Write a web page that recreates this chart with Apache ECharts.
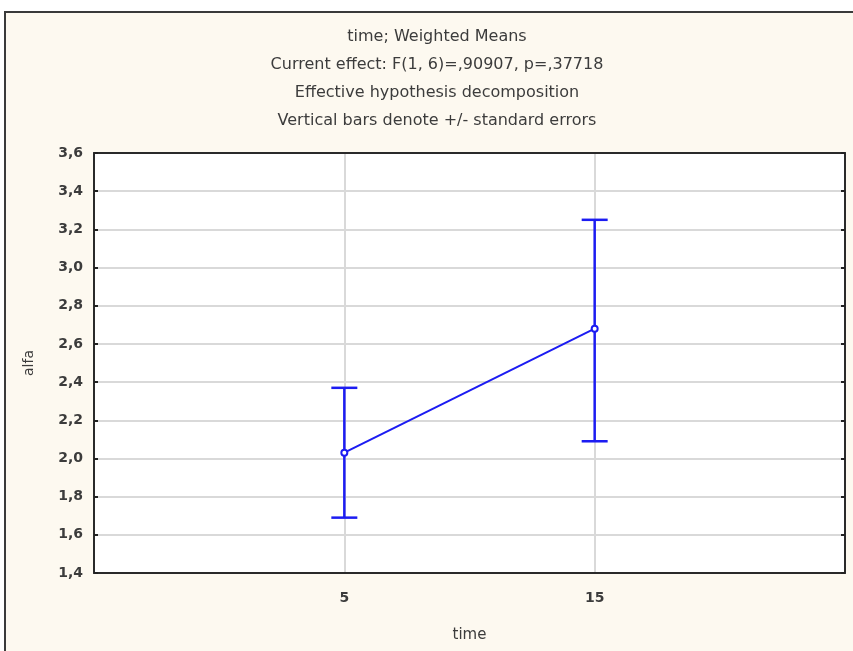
<!DOCTYPE html>
<html>
<head>
<meta charset="utf-8">
<script src="https://cdn.jsdelivr.net/npm/echarts@6/dist/echarts.min.js"></script>
<style>
html,body{margin:0;padding:0;background:#fff;}
#c{width:853px;height:651px;}
</style>
</head>
<body>
<div id="c"></div>
<script>
const categories = ['5', '15'];
const means = [2.03, 2.68];
const upper = [2.37, 3.25];
const lower = [1.69, 2.09];
const titleLines = [
  'time; Weighted Means',
  'Current effect: F(1, 6)=,90907, p=,37718',
  'Effective hypothesis decomposition',
  'Vertical bars denote +/- standard errors'
];
const yMin = 1.4, yMax = 3.6, yStep = 0.2;

const xCats = [''].concat(categories, ['']);
const lineData = ['-'].concat(means, ['-']);
const errData = categories.map((c, i) => [i + 1, lower[i], upper[i]]);

const FONT = '"DejaVu Sans", sans-serif';
const TXT = '#3c3c3c';
const BLUE = '#1c1cf2';
const BORDER = {show: true, onZero: false, lineStyle: {color: '#2a2a2a', width: 2}};
const chart = echarts.init(document.getElementById('c'));
const graphics = [{
  type: 'rect', z: -10, silent: true,
  shape: {x: 5, y: 12, width: 860, height: 660},
  style: {fill: '#fdf9f0', stroke: '#3a3a3a', lineWidth: 2}
}];
titleLines.forEach((t, i) => {
  graphics.push({
    type: 'text', silent: true, z: 10,
    style: {text: t, x: 437, y: 37 + i * 28, textAlign: 'center', textVerticalAlign: 'middle',
      font: '16px ' + FONT, fill: TXT}
  });
});

chart.setOption({
  backgroundColor: '#fff',
  animation: false,
  graphic: graphics,
  grid: {left: 94, right: 8, top: 153, bottom: 78, show: true, backgroundColor: '#fff',
    borderWidth: 0},
  xAxis: [{
    type: 'category', data: xCats, boundaryGap: false, position: 'bottom',
    name: 'time', nameLocation: 'middle', nameGap: 55,
    nameTextStyle: {color: TXT, fontSize: 15, fontFamily: FONT},
    axisLine: BORDER, axisTick: {show: false},
    axisLabel: {color: TXT, fontSize: 14, fontWeight: 'bold', fontFamily: FONT, margin: 18, interval: 0},
    splitLine: {show: true, interval: 0, lineStyle: {color: '#d9d9d9', width: 2}}
  }, {
    type: 'category', data: xCats, boundaryGap: false, position: 'top',
    axisLine: BORDER, axisTick: {show: false}, axisLabel: {show: false}, splitLine: {show: false}
  }],
  yAxis: [{
    type: 'value', min: yMin, max: yMax, interval: yStep, position: 'left',
    name: 'alfa', nameLocation: 'middle', nameGap: 58, nameRotate: 90,
    nameTextStyle: {color: TXT, fontSize: 14, fontFamily: FONT},
    axisLine: BORDER,
    axisTick: {show: true, inside: true, length: 4, lineStyle: {color: '#222', width: 2}},
    axisLabel: {color: TXT, fontSize: 14, fontWeight: 'bold', fontFamily: FONT, margin: 11,
      formatter: v => v.toFixed(1).replace('.', ',')},
    splitLine: {show: true, lineStyle: {color: '#d9d9d9', width: 2}}
  }, {
    type: 'value', min: yMin, max: yMax, interval: yStep, position: 'right',
    axisLine: BORDER,
    axisTick: {show: true, inside: true, length: 4, lineStyle: {color: '#222', width: 2}},
    axisLabel: {show: false}, splitLine: {show: false}
  }],
  series: [{
    type: 'custom', z: 3,
    renderItem: function (params, api) {
      const x = api.value(0);
      const lo = api.coord([x, api.value(1)]);
      const hi = api.coord([x, api.value(2)]);
      const w = 13;
      const st = {stroke: BLUE, lineWidth: 2.5};
      return {type: 'group', children: [
        {type: 'line', shape: {x1: hi[0], y1: hi[1], x2: lo[0], y2: lo[1]}, style: st},
        {type: 'line', shape: {x1: hi[0] - w, y1: hi[1], x2: hi[0] + w, y2: hi[1]}, style: st},
        {type: 'line', shape: {x1: lo[0] - w, y1: lo[1], x2: lo[0] + w, y2: lo[1]}, style: st}
      ]};
    },
    encode: {x: 0, y: [1, 2]},
    data: errData
  }, {
    type: 'line', z: 4, data: lineData, connectNulls: false,
    symbol: 'emptyCircle', symbolSize: 6,
    lineStyle: {color: BLUE, width: 2},
    itemStyle: {color: BLUE, borderWidth: 2}
  }]
});
</script>
</body>
</html>
